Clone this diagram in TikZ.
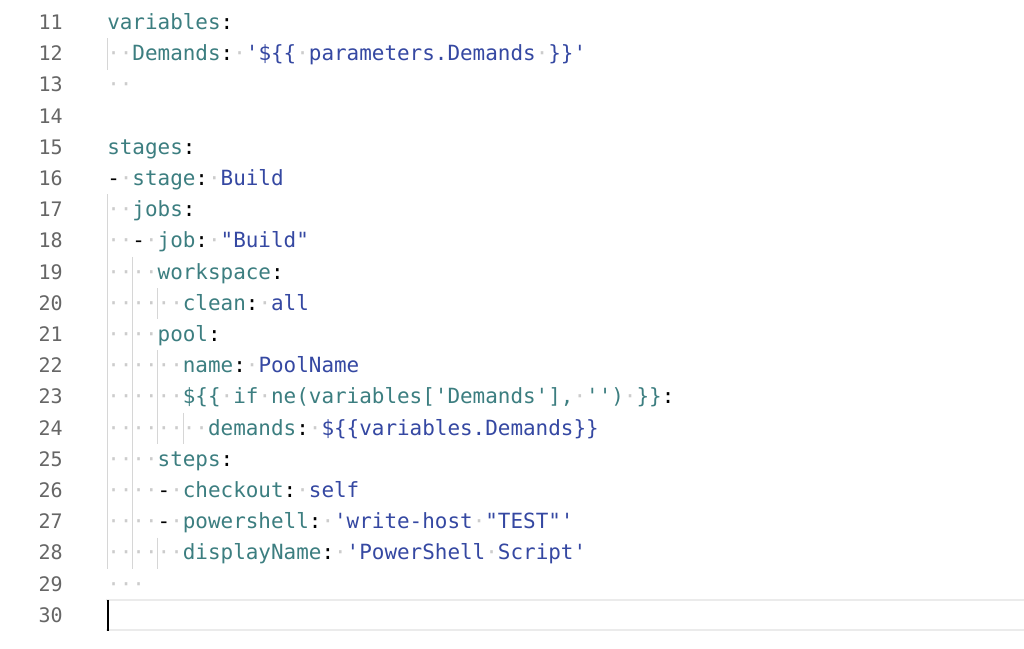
\documentclass[tikz,border=0pt]{standalone}
\usepackage{fontspec}
\setmonofont{DejaVu Sans Mono}
\usepackage{tikz}

\definecolor{keyteal}{HTML}{3C7E80}
\definecolor{valblue}{HTML}{3548A2}
\definecolor{numgray}{HTML}{666666}
\definecolor{wsgray}{HTML}{CCCCCC}
\definecolor{guidegray}{HTML}{D6D6D6}
\definecolor{curline}{HTML}{EBEBEB}

\newcommand\ws{\textcolor{wsgray}{\char"00B7}}
\newcommand\ykey[1]{\textcolor{keyteal}{#1}}
\newcommand\yval[1]{\textcolor{valblue}{#1}}

\tikzset{
  codeline/.style={anchor=base west, inner sep=0pt, font=\ttfamily\fontsize{15.7pt}{18pt}\selectfont},
  lineno/.style={anchor=base east, inner sep=0pt, text=numgray, font=\ttfamily\fontsize{15pt}{18pt}\selectfont},
  guide/.style={guidegray, line width=0.75pt}
}

\begin{document}
\begin{tikzpicture}[x=0.75pt, y=-0.75pt]
\fill[white] (0,0) rectangle (1024,649);
\useasboundingbox (0,0) rectangle (1024,649);

% current line frame and cursor
\draw[curline, line width=1.5pt] (106,600) -- (1024,600) (106,630) -- (1024,630);

% indent guides
\draw[guide] (107.5,38.4) -- (107.5,69.6);
\draw[guide] (107.5,194.4) -- (107.5,568.8);
\draw[guide] (132.7,256.8) -- (132.7,568.8);
\draw[guide] (157.9,288) -- (157.9,319.2);
\draw[guide] (157.9,350.4) -- (157.9,444);
\draw[guide] (157.9,537.6) -- (157.9,568.8);
\draw[guide] (183.1,412.8) -- (183.1,444);

% line numbers
\foreach \n in {11,...,30}
  \node[lineno] (num\n) at (63,{29.5+(\n-11)*31.2}) {\n};

% code
\node[codeline] (code11) at (107,29.5) {\ykey{variables}:};
\node[codeline] (code12) at (107,60.7) {\ws\ws\ykey{Demands}:\ws\yval{'\$\{\{\ws parameters.Demands\ws\}\}'}};
\node[codeline] (code13) at (107,91.9) {\ws\ws};
\node[codeline] (code15) at (107,154.3) {\ykey{stages}:};
\node[codeline] (code16) at (107,185.5) {-\ws\ykey{stage}:\ws\yval{Build}};
\node[codeline] (code17) at (107,216.7) {\ws\ws\ykey{jobs}:};
\node[codeline] (code18) at (107,247.9) {\ws\ws-\ws\ykey{job}:\ws\yval{"Build"}};
\node[codeline] (code19) at (107,279.1) {\ws\ws\ws\ws\ykey{workspace}:};
\node[codeline] (code20) at (107,310.3) {\ws\ws\ws\ws\ws\ws\ykey{clean}:\ws\yval{all}};
\node[codeline] (code21) at (107,341.5) {\ws\ws\ws\ws\ykey{pool}:};
\node[codeline] (code22) at (107,372.7) {\ws\ws\ws\ws\ws\ws\ykey{name}:\ws\yval{PoolName}};
\node[codeline] (code23) at (107,403.9) {\ws\ws\ws\ws\ws\ws\ykey{\$\{\{\ws if\ws ne(variables['Demands'],\ws'')\ws\}\}}:};
\node[codeline] (code24) at (107,435.1) {\ws\ws\ws\ws\ws\ws\ws\ws\ykey{demands}:\ws\yval{\$\{\{variables.Demands\}\}}};
\node[codeline] (code25) at (107,466.3) {\ws\ws\ws\ws\ykey{steps}:};
\node[codeline] (code26) at (107,497.5) {\ws\ws\ws\ws-\ws\ykey{checkout}:\ws\yval{self}};
\node[codeline] (code27) at (107,528.7) {\ws\ws\ws\ws-\ws\ykey{powershell}:\ws\yval{'write-host\ws"TEST"'}};
\node[codeline] (code28) at (107,559.9) {\ws\ws\ws\ws\ws\ws\ykey{displayName}:\ws\yval{'PowerShell\ws Script'}};
\node[codeline] (code29) at (107,591.1) {\ws\ws\ws};

\fill[black] (106.5,600) rectangle (108.5,631);
\end{tikzpicture}
\end{document}
